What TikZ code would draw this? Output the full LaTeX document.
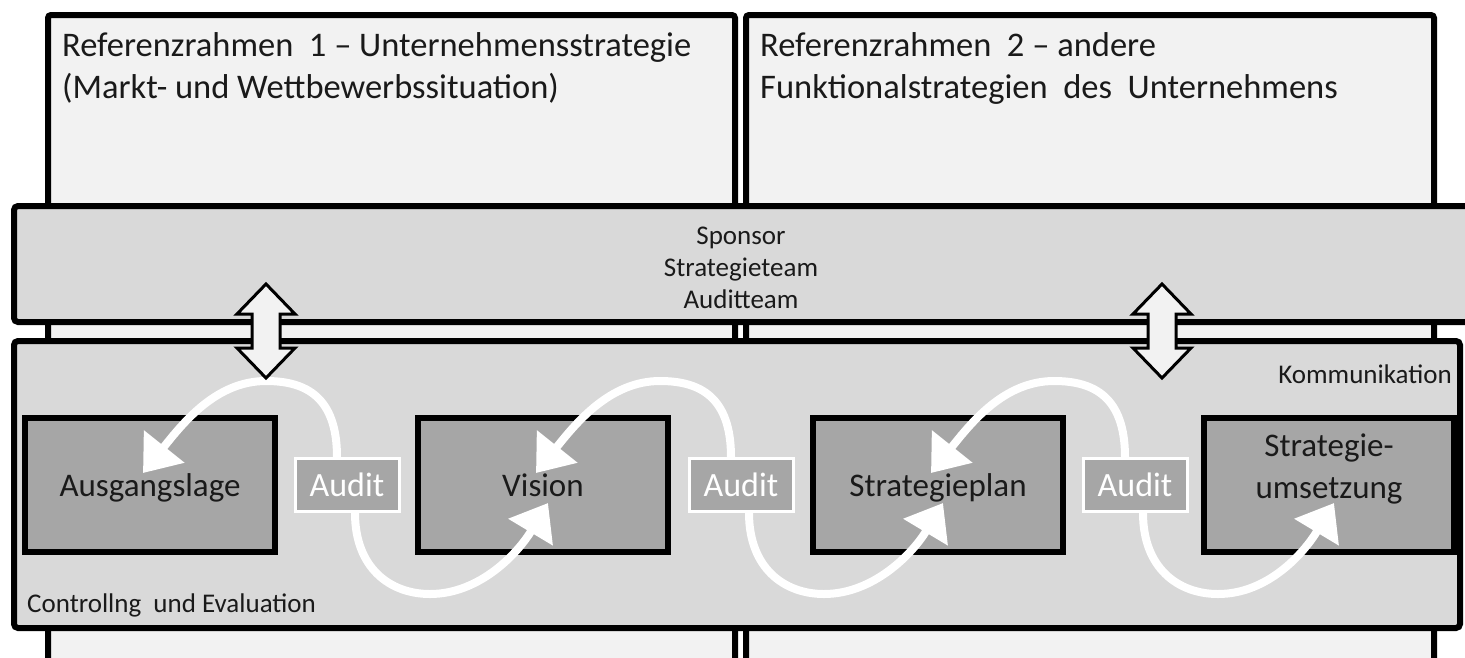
\documentclass[tikz,border=0pt]{standalone}
\usepackage{fontspec}
\setmainfont{Carlito}
\usepackage{xcolor}
\usetikzlibrary{arrows.meta, calc, positioning}
\definecolor{framegray}{RGB}{242, 242, 242}
\definecolor{bandgray}{RGB}{217, 217, 217}
\definecolor{boxgray}{RGB}{166, 166, 166}
\definecolor{textdark}{RGB}{26, 26, 26}

\tikzset{
  frame/.style={draw=black, line width=6pt, fill=framegray, rounded corners=3pt},
  band/.style={draw=black, line width=6pt, fill=bandgray, rounded corners=4pt},
  phase/.style={draw=black, line width=6pt, fill=boxgray, minimum width=250pt, minimum height=134pt,
    font=\fontsize{33}{42}\selectfont, text=textdark, align=center, inner sep=0pt},
  audit/.style={draw=white, line width=3pt, fill=boxgray, minimum width=104pt, minimum height=53pt,
    font=\fontsize{34}{40}\selectfont, text=white, inner sep=0pt},
  flow/.style={draw=white, line width=8pt, -{Triangle[length=34pt, width=50pt]}},
  updown/.style={draw=black, line width=3pt, fill=framegray, line join=miter},
  label/.style={font=\fontsize{34.5}{42}\selectfont, text=textdark, align=left, inner sep=0pt},
  small/.style={font=\fontsize{27}{32}\selectfont, text=textdark, inner sep=0pt},
}

\begin{document}
\begin{tikzpicture}[x=1pt, y=-1pt]
\useasboundingbox (0,0) rectangle (1465,657);
\clip (0,0) rectangle (1465,657);

% Referenzrahmen
\draw[frame] (48,15) rectangle (735,700);
\draw[frame] (746,15) rectangle (1434,700);
\node[label, anchor=base west] (ref1) at (62,98) {Referenzrahmen~~1 – Unternehmensstrategie\\(Markt- und Wettbewerbssituation)};
\node[label, anchor=base west] (ref2) at (760,98) {Referenzrahmen~~2 – andere\\Funktionalstrategien~~des~~Unternehmens};

% Baender
\draw[band] (14,206) rectangle (1480,322);
\draw[band] (14,341) rectangle (1460,628);
\node[small, align=center] (team) at (741,268) {Sponsor\\Strategieteam\\Auditteam};
\node[small, anchor=east] (komm) at (1452,374) {Kommunikation};
\node[small, anchor=west] (contr) at (27,605) {Controllng~~und Evaluation};

% Phasen
\node[phase, text depth=0pt] (b1) at (150,485) {Ausgangslage};
\node[phase] (b2) at (543,485) {Vision};
\node[phase, text depth=0pt] (b3) at (938,485) {Strategieplan};
\node[phase, text depth=38pt] (b4) at (1329,485) {Strategie-\\umsetzung};

\coordinate (t1) at ($(b1.center)+(-7,-12)$);
\coordinate (t2) at ($(b2.center)+(-7,-12)$);
\coordinate (t3) at ($(b3.center)+(-7,-12)$);
\coordinate (u2) at ($(b2.center)+(5,18)$);
\coordinate (u3) at ($(b3.center)+(5,18)$);
\coordinate (u4) at ($(b4.center)+(5,18)$);

% Audits
\node[audit] (a1) at (347,485) {Audit};
\node[audit] (a2) at (741,485) {Audit};
\node[audit] (a3) at (1135,485) {Audit};

\draw[flow] ([xshift=-10pt]a1.north) .. controls +(0,-60) and +(40,0) .. ++(-71,-76)
  .. controls +(-50,0) and +(40,-50) .. (t1);
\draw[flow] ([xshift=-10pt]a2.north) .. controls +(0,-60) and +(40,0) .. ++(-71,-76)
  .. controls +(-50,0) and +(40,-50) .. (t2);
\draw[flow] ([xshift=-10pt]a3.north) .. controls +(0,-60) and +(40,0) .. ++(-71,-76)
  .. controls +(-50,0) and +(40,-50) .. (t3);
\draw[flow] ([xshift=8pt]a1.south) .. controls +(0,55) and +(-40,0) .. ++(75,81)
  .. controls +(50,0) and +(-30,50) .. (u2);
\draw[flow] ([xshift=8pt]a2.south) .. controls +(0,55) and +(-40,0) .. ++(75,81)
  .. controls +(50,0) and +(-30,50) .. (u3);
\draw[flow] ([xshift=8pt]a3.south) .. controls +(0,55) and +(-40,0) .. ++(75,81)
  .. controls +(50,0) and +(-30,50) .. (u4);

% Doppelpfeile
\coordinate (d1) at (266,331);
\coordinate (d2) at (1162,331);
\draw[updown] ($(d1)+(0,-47)$) -- ++(29,30) -- ++(-15,0) -- ++(0,34) -- ++(15,0) -- ++(-29,30)
  -- ++(-29,-30) -- ++(15,0) -- ++(0,-34) -- ++(-15,0) -- cycle;
\draw[updown] ($(d2)+(0,-47)$) -- ++(29,30) -- ++(-15,0) -- ++(0,34) -- ++(15,0) -- ++(-29,30)
  -- ++(-29,-30) -- ++(15,0) -- ++(0,-34) -- ++(-15,0) -- cycle;

\end{tikzpicture}
\end{document}
